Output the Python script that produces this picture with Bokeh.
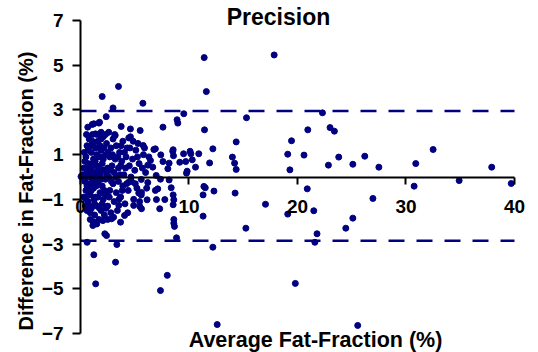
import math
from bokeh.plotting import figure
from bokeh.models import FixedTicker, Label, Range1d
from bokeh.embed import file_html
from bokeh.resources import INLINE

# ---- data ----
# sparse / outlying points
avg_sparse = [17.85, 22.3, 20.95, 23.0, 23.4, 19.45, 19.1, 20.6, 19.3, 22.85, 23.8, 25.1, 26.2, 27.5,
              32.5, 30.9, 37.9, 34.9, 30.75, 39.7, 20.9, 17.05, 26.95, 21.5, 19.1, 25.1, 24.45, 21.8,
              21.6, 19.8, 25.55,
              11.4, 11.6, 5.75, 3.5, 2.0, 3.0, 2.37, 9.52, 8.9, 8.97, 7.6, 5.5, 3.75, 11.43, 15.3,
              14.35, 12.2, 10.9, 10.17, 9.5, 8.5, 8.57, 9.15, 9.7, 10.3, 10.6, 9.83, 9.77, 11.9, 14.0,
              14.2, 14.35, 7.4, 6.76, 7.6, 8.17, 8.05, 6.45, 6.2, 6.66, 6.98, 7.37, 8.17, 6.2, 5.6,
              7.12, 6.9, 5.62, 8.36, 11.37, 11.5, 11.3, 12.3, 14.25, 6.14, 5.47, 5.62, 7.3, 7.0, 7.77,
              8.6, 11.3, 8.6, 8.6, 8.66, 8.85, 12.2, 15.24, 3.69, 2.86, 2.06, 1.14, 2.24, 2.4, 3.35,
              0.61, 4.06, 8.54, 8.54, 7.37, 8.0, 12.6, 1.4, 3.23, 1.23,
              5.78, 6.9, 8.54, 10.1, 0.67, 1.08, 1.7, 1.9, 4.6, 3.2, 4.45, 1.38, 1.75, 1.23, 0.05,
              0.77, 3.53, 4.9, 5.37, 3.7, 4.45]
diff_sparse = [5.46, 2.87, 2.11, 2.21, 2.05, 1.62, 1.02, 0.98, 0.32, 0.53, 0.89, 0.57, 0.93, 0.44,
               1.23, 0.6, 0.44, -0.16, -0.41, -0.29, -0.53, -1.22, -0.96, -1.51, -1.66, -1.84, -2.29, -2.54,
               -2.92, -4.76, -6.64,
               5.34, 3.82, 3.3, 4.05, 3.6, 3.09, 2.7, 2.83, 2.56, 2.41, 2.23, 2.08, 2.26, 2.11, 2.65,
               1.57, 1.26, 1.04, 1.04, 1.04, 1.15, 0.95, 0.66, 0.69, 0.77, 0.44, 0.26, 0.17, 0.63, 0.89,
               0.62, 0.34, 0.99, 1.23, 0.69, 0.62, 0.37, 0.74, 0.53, 0.44, 0.07, -0.1, -0.13, -0.25, -0.11,
               -0.53, -0.6, -0.69, -0.48, -0.42, -0.48, -0.8, -0.63, -0.72, -1.02, -1.32, -1.42, -1.42, -1.01, -1.01,
               -1.02, -1.75, -1.9, -2.07, -2.21, -2.72, -3.14, -2.29, -2.02, -1.87, -1.95, -2.17, -2.54, -2.62, -3.02,
               -2.92, -1.72, -1.24, -0.8, -5.08, -4.4, -6.6, -4.78, -3.81, -3.48,
               1.41, 1.26, 1.22, 1.15, 2.23, 2.35, 2.41, 2.0, 2.15, 1.86, 1.75, 1.93, 2.45, 2.38, 0.02,
               -1.27, -1.27, -1.27, -0.72, 0.51, -0.23]

# dense cluster at low fat-fraction
avg_dense = [0.3, 0.4, 0.5, 0.5, 0.6, 0.6, 0.7, 0.7, 0.8, 0.8, 0.9, 0.9, 1.0, 1.0, 1.0, 1.1, 1.1, 1.2, 1.2,
             1.3, 1.3, 1.4, 1.4, 1.5, 1.5, 1.6, 1.6, 1.7, 1.7, 1.8, 1.8, 1.9, 1.9, 2.0, 2.0, 2.1, 2.1, 2.2,
             2.2, 2.3, 2.3, 2.4, 2.4, 2.5, 2.5, 2.6, 2.6, 2.7, 2.7, 2.8, 2.8, 2.9, 3.0, 3.0, 3.1, 3.1, 3.2,
             3.3, 3.3, 3.4, 3.5, 3.5, 3.6, 3.7, 3.8, 3.9, 3.9, 4.0, 4.1, 4.2, 4.3, 4.4, 4.5, 4.6, 4.7, 4.8,
             4.9, 5.0, 5.1, 5.2, 5.3, 5.4, 5.6, 5.8, 6.0,
             0.4, 0.5, 0.6, 0.7, 0.8, 0.9, 1.0, 1.1, 1.2, 1.3, 1.4, 1.5, 1.6, 1.7, 1.8, 1.9, 2.0, 2.1, 2.2,
             2.3, 2.4, 2.5, 1.2, 0.9, 1.5, 1.9, 1.1, 0.6, 0.3, 0.2, 0.35, 0.45, 0.55, 0.65, 0.75, 0.85, 0.95,
             1.05, 1.15, 1.25, 1.35, 1.45, 1.55, 1.65, 1.75, 1.85, 1.95, 2.05, 2.15, 2.35, 2.55, 2.65, 2.75,
             2.85, 2.95, 3.05, 3.15, 3.25, 3.45, 3.55, 3.65, 3.75, 3.85, 4.05, 4.15, 4.25, 4.35, 4.55, 4.65,
             4.85, 5.05, 5.25, 5.45, 5.7, 5.9, 6.1, 6.3]
diff_dense = [0.4, -0.2, 0.9, -0.6, 0.2, 1.4, -1.1, 0.6, -0.3, 1.7, 0.1, -0.8, 1.1, -1.4, 0.4, -0.1, 1.9, 0.8, -0.5,
              -1.7, 0.2, 1.3, -0.9, 0.5, -1.3, 1.6, -0.2, 0.9, -1.9, 0.1, -0.7, 1.2, -1.5, 0.6, -0.4, 1.8, -1.0, 0.3,
              -1.7, 1.0, -0.1, 1.5, -0.8, 0.4, -1.3, 2.0, 0.0, 0.9, -0.6, -1.6, 1.3, 0.5, -0.3, 1.7, -1.1, 0.2, 0.8,
              -0.7, 1.4, -1.5, 0.4, -0.2, 1.1, -0.9, 0.7, 1.6, -0.4, 0.1, -1.2, 0.9, 1.3, -0.6, 0.5, 1.8, -0.2, 0.8,
              -1.0, 0.3, 1.2, -0.5, 1.5, 0.6, -0.8, 1.0, 0.2,
              0.7, -1.0, -0.4, 1.2, 0.3, -1.6, -0.6, 0.6, 1.5, -1.2, 0.0, 1.0, -0.9, 0.3, 1.4, -0.1, -1.2, 0.8, -0.6,
              1.9, 0.1, -1.9, -2.0, -1.9, -2.1, 1.7, 1.6, -1.5, -0.9, 0.1, 1.1, -1.3, 1.9, 0.0, -0.8, 0.5, 1.4,
              -0.3, 0.2, -1.0, 0.7, -0.4, 1.9, 0.4, -1.4, 0.9, 0.3, -0.7, 1.3, -1.4, 1.1, -0.9, 0.3,
              -0.2, 1.0, -1.8, 1.9, 0.0, 0.9, -1.0, 0.1, 1.4, -0.6, 1.1, 0.4, -0.3, -1.6, 1.3, 0.0,
              1.6, -0.3, 0.9, -1.1, 0.4, 1.3, -0.5, 0.9]

avg_ff = avg_sparse + avg_dense
diff_ff = diff_sparse + diff_dense

loa_x = [0, 40]
upper_loa = [2.95, 2.95]
lower_loa = [-2.85, -2.85]

x_ticks = [0, 10, 20, 30, 40]
y_ticks = [-7, -5, -3, -1, 1, 3, 5, 7]

FONT = "Liberation Sans"
NAVY = "#000080"

# frame fills the canvas; axes cross at the origin and are bounded to the data extent
p = figure(width=538, height=352, output_backend="svg", toolbar_location=None,
           x_range=Range1d(-7.373, 42.212), y_range=Range1d(-7.85, 7.895),
           min_border=0, min_border_left=0, min_border_right=0,
           min_border_top=0, min_border_bottom=0)
p.title.visible = False
p.outline_line_color = None
p.grid.visible = False
p.background_fill_color = "white"
p.border_fill_color = "white"

p.line(loa_x, upper_loa, line_color=NAVY, line_width=2.6, line_dash="16 12")
p.line(loa_x, lower_loa, line_color=NAVY, line_width=2.6, line_dash="16 12")
p.scatter(avg_ff, diff_ff, size=6, fill_color=NAVY, line_color=NAVY)

xa = p.xaxis[0]
xa.fixed_location = 0
xa.bounds = (0, 40)
xa.ticker = FixedTicker(ticks=x_ticks)
xa.minor_tick_line_color = None
xa.major_tick_in = 0
xa.major_tick_out = 7
xa.major_tick_line_width = 2
xa.axis_line_width = 2
xa.major_label_standoff = 16
xa.major_label_text_font = FONT
xa.major_label_text_font_style = "bold"
xa.major_label_text_font_size = "19px"
xa.major_label_text_color = "black"

ya = p.yaxis[0]
ya.fixed_location = 0
ya.bounds = (-7, 7)
ya.ticker = FixedTicker(ticks=y_ticks)
ya.minor_tick_line_color = None
ya.major_tick_in = 0
ya.major_tick_out = 8
ya.major_tick_line_width = 2
ya.axis_line_width = 2
ya.major_label_standoff = 9
ya.major_label_text_font = FONT
ya.major_label_text_font_style = "bold"
ya.major_label_text_font_size = "19px"
ya.major_label_text_color = "black"

p.add_layout(Label(x=18.25, y=7.15, text="Precision", text_font=FONT, text_font_style="bold",
                   text_font_size="23px", text_align="center", text_baseline="middle", text_color="black"))
p.add_layout(Label(x=21.66, y=-7.29, text="Average Fat-Fraction (%)", text_font=FONT,
                   text_font_style="bold", text_font_size="21.5px", text_align="center",
                   text_baseline="middle", text_color="black"))
p.add_layout(Label(x=-4.98, y=-0.63, angle=math.pi / 2, text="Difference in Fat-Fraction (%)",
                   text_font=FONT, text_font_style="bold", text_font_size="20px",
                   text_align="center", text_baseline="middle", text_color="black"))

open("out.html", "w").write(file_html(p, INLINE))
